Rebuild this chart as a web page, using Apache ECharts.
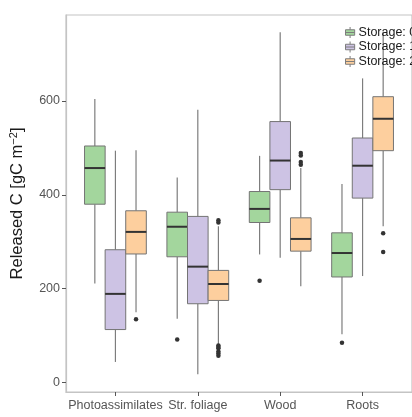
<!DOCTYPE html>
<html lang="en">
<head>
<meta charset="utf-8" />
<title>Released C</title>
<script src="https://cdn.jsdelivr.net/npm/echarts@6/dist/echarts.min.js"></script>
<style>
  html, body { margin: 0; padding: 0; background: #fff; }
  #main { width: 412px; height: 417px; }
</style>
</head>
<body>
<div id="main"></div>
<script>
// categories on the x axis
var categories = ['Photoassimilates', 'Str. foliage', 'Wood', 'Roots'];
var storageNames = ['Storage: 0', 'Storage: 1', 'Storage: 2'];
var yTicks = [0, 200, 400, 600];

// box stats per category: [lower whisker, Q1, median, Q3, upper whisker]
var storage0 = [[211, 380, 457, 504, 604], [136, 268, 332, 363, 437], [273, 341, 370, 407, 483], [103, 225, 276, 319, 423]];
var storage1 = [[44, 113, 189, 283, 494], [18, 168, 247, 354, 581], [266, 411, 473, 556, 746], [227, 393, 462, 521, 648]];
var storage2 = [[150, 274, 321, 366, 495], [82, 175, 210, 239, 333], [205, 280, 306, 351, 457], [333, 494, 562, 609, 748]];

// outliers per category
var outliers0 = [[], [92], [217], [85]];
var outliers1 = [[], [], [], []];
var outliers2 = [[135], [346, 341, 79, 76, 73, 66, 62, 57], [489, 484, 470, 464], [318, 278]];

var colors = ['#a3d69d', '#cdc3e4', '#fdcf9e'];
var BOX_W = 0.25;
var offsets = [-0.25, 0, 0.25];

function renderBox(params, api) {
  var x = api.value(0);
  var lo = api.coord([x, api.value(1)]);
  var q1 = api.coord([x, api.value(2)]);
  var md = api.coord([x, api.value(3)]);
  var q3 = api.coord([x, api.value(4)]);
  var hi = api.coord([x, api.value(5)]);
  var w = api.size([BOX_W, 0])[0];
  var whisker = { stroke: '#7d7d7d', lineWidth: 1.2 };
  return {
    type: 'group',
    children: [
      { type: 'line', shape: { x1: hi[0], y1: hi[1], x2: q3[0], y2: q3[1] }, style: whisker },
      { type: 'line', shape: { x1: lo[0], y1: lo[1], x2: q1[0], y2: q1[1] }, style: whisker },
      { type: 'rect', shape: { x: q3[0] - w / 2, y: q3[1], width: w, height: q1[1] - q3[1] },
        style: { fill: api.visual('color'), stroke: '#747474', lineWidth: 1 } },
      { type: 'line', shape: { x1: md[0] - w / 2, y1: md[1], x2: md[0] + w / 2, y2: md[1] },
        style: { stroke: '#333', lineWidth: 2 } }
    ]
  };
}

var allStats = [storage0, storage1, storage2];
var allOutliers = [outliers0, outliers1, outliers2];
var series = [];

allStats.forEach(function (stats, s) {
  var boxData = stats.map(function (b, i) {
    return [i + offsets[s]].concat(b);
  });
  series.push({
    name: storageNames[s],
    type: 'custom',
    renderItem: renderBox,
    itemStyle: { color: colors[s] },
    encode: { x: 0, y: [1, 2, 3, 4, 5] },
    data: boxData,
    z: 2
  });
  var pts = [];
  allOutliers[s].forEach(function (list, i) {
    list.forEach(function (v) { pts.push([i + offsets[s], v]); });
  });
  series.push({
    name: storageNames[s],
    type: 'scatter',
    symbolSize: 4.5,
    itemStyle: { color: '#333', opacity: 1 },
    data: pts,
    z: 3
  });
});

var legendIcon = 'path://M0,3H10V9H0Z M0,6H10 M5,0V3 M5,9V12';

var myChart = echarts.init(document.getElementById('main'));
var option = {
  animation: false,
  textStyle: { fontFamily: 'Liberation Sans, Arial, sans-serif' },
  grid: {
    left: 62, top: 15, right: -10, bottom: 25,
    show: true, borderColor: '#c4c4c4', borderWidth: 1.2, backgroundColor: '#fff'
  },
  legend: {
    orient: 'vertical',
    left: 340, top: 21,
    itemWidth: 11, itemHeight: 11, itemGap: 1.5,
    textStyle: { fontSize: 12.5, color: '#1a1a1a', padding: [0, 0, 0, -2] },
    data: storageNames.map(function (n, s) {
      return { name: n, icon: legendIcon,
        itemStyle: { color: colors[s], borderColor: '#7d7d7d', borderWidth: 1 } };
    })
  },
  xAxis: {
    type: 'value',
    min: -0.6, max: 3.6,
    axisLine: { show: true, onZero: false, lineStyle: { color: '#c4c4c4', width: 1.2 } },
    axisTick: { show: true, length: 4, customValues: [0, 1, 2, 3], lineStyle: { color: '#555' } },
    axisLabel: {
      customValues: [0, 1, 2, 3],
      margin: 7, fontSize: 12.5, color: '#555',
      formatter: function (v) { return categories[Math.round(v)]; }
    },
    splitLine: { show: false }
  },
  yAxis: {
    type: 'value',
    min: -20, max: 783,
    name: 'Released C [gC m{sup|\u22122}]',
    nameLocation: 'middle', nameGap: 39,
    nameTextStyle: {
      fontSize: 16.5, color: '#1a1a1a',
      rich: { sup: { fontSize: 11, verticalAlign: 'top', padding: [0, 0, 8, 0], color: '#1a1a1a' } }
    },
    axisLine: { show: true, onZero: false, lineStyle: { color: '#c4c4c4', width: 1.2 } },
    axisTick: { show: true, length: 4, customValues: yTicks, lineStyle: { color: '#555' } },
    axisLabel: { customValues: yTicks, margin: 6, fontSize: 12.5, color: '#555' },
    splitLine: { show: false }
  },
  series: series
};
myChart.setOption(option);
</script>
</body>
</html>
